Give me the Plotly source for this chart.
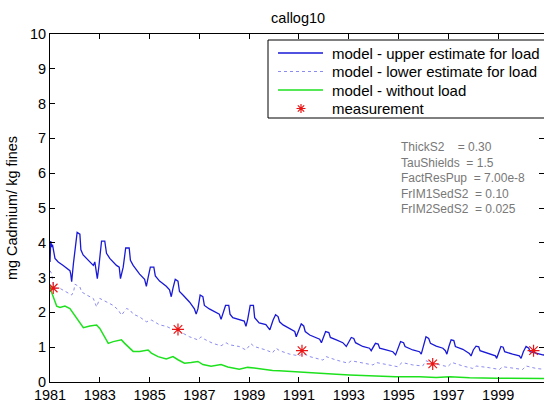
import plotly.graph_objects as go

# ---- data ----
upper_t = [1981.0, 1981.03, 1981.07, 1981.1, 1981.2, 1981.33, 1981.53, 1981.67, 1981.8, 1981.83, 1981.87, 1981.94,
           1982.0, 1982.09, 1982.2, 1982.24, 1982.33, 1982.53, 1982.74, 1982.8, 1982.9, 1982.96,
           1983.07, 1983.2, 1983.27, 1983.4, 1983.67, 1983.78, 1983.83, 1983.94,
           1984.04, 1984.18, 1984.23, 1984.34, 1984.6, 1984.8, 1984.87, 1984.94,
           1985.03, 1985.17, 1985.23, 1985.4, 1985.67, 1985.8, 1985.87, 1985.94,
           1986.03, 1986.14, 1986.2, 1986.34, 1986.6, 1986.8, 1986.87, 1986.94,
           1987.03, 1987.14, 1987.2, 1987.4, 1987.67, 1987.8, 1987.87, 1987.94,
           1988.05, 1988.18, 1988.23, 1988.34, 1988.6, 1988.8, 1988.87, 1988.94,
           1989.04, 1989.17, 1989.22, 1989.4, 1989.67, 1989.83, 1989.96,
           1990.06, 1990.16, 1990.22, 1990.36, 1990.63, 1990.83, 1990.89,
           1991.0, 1991.09, 1991.19, 1991.25, 1991.43, 1991.7, 1991.83, 1991.9, 1991.99,
           1992.07, 1992.2, 1992.26, 1992.5, 1992.76, 1992.9,
           1993.0, 1993.1, 1993.2, 1993.27, 1993.56, 1993.83, 1993.9, 1993.99,
           1994.07, 1994.18, 1994.24, 1994.5, 1994.77, 1994.88, 1994.97,
           1995.08, 1995.2, 1995.26, 1995.57, 1995.84, 1995.91,
           1996.0, 1996.1, 1996.21, 1996.28, 1996.51, 1996.78, 1996.88, 1996.94,
           1997.02, 1997.11, 1997.22, 1997.28, 1997.58, 1997.84, 1997.91,
           1998.0, 1998.11, 1998.22, 1998.27, 1998.65, 1998.89, 1998.94,
           1999.02, 1999.11, 1999.2, 1999.26, 1999.58, 1999.85, 1999.92,
           2000.01, 2000.12, 2000.23, 2000.28, 2000.52, 2000.79, 2000.9]
upper_v = [3.45, 4.05, 3.88, 3.95, 3.55, 3.45, 3.35, 3.26, 3.2, 3.11, 2.88, 3.4,
           3.8, 4.3, 4.25, 3.8, 3.65, 3.5, 3.35, 3.45, 2.97, 3.3,
           4.05, 4.05, 3.7, 3.55, 3.35, 3.3, 2.97, 3.3,
           3.85, 3.85, 3.5, 3.35, 3.1, 2.95, 2.75, 3.0,
           3.3, 3.3, 3.05, 2.9, 2.75, 2.65, 2.45, 2.7,
           2.95, 2.9, 2.6, 2.5, 2.3, 2.1, 1.95, 2.1,
           2.5, 2.45, 2.2, 2.1, 2.0, 1.95, 1.8, 1.95,
           2.2, 2.2, 1.95, 1.85, 1.8, 1.75, 1.6, 1.8,
           2.2, 2.2, 1.85, 1.7, 1.65, 1.5, 1.78,
           1.93, 1.88, 1.73, 1.64, 1.54, 1.45, 1.3,
           1.5, 1.67, 1.61, 1.45, 1.35, 1.28, 1.23, 1.13, 1.3,
           1.45, 1.42, 1.28, 1.21, 1.13, 1.02,
           1.16, 1.28, 1.25, 1.13, 1.02, 0.97, 0.9, 1.02,
           1.11, 1.09, 0.97, 0.92, 0.87, 0.78, 0.97,
           1.16, 1.13, 1.02, 0.92, 0.87, 0.8,
           1.02, 1.3, 1.25, 1.11, 1.03, 0.97, 0.9, 0.8,
           1.02, 1.21, 1.19, 1.02, 0.94, 0.82, 0.75,
           0.92, 1.03, 1.01, 0.9, 0.82, 0.75, 0.68,
           0.87, 1.02, 1.0, 0.87, 0.8, 0.75, 0.68,
           0.87, 1.02, 0.97, 0.87, 0.82, 0.78, 0.77]

lower_t = [1981.0, 1981.07, 1981.13, 1981.2, 1981.4, 1981.67, 1981.87, 1981.95,
           1982.0, 1982.2, 1982.27, 1982.47, 1982.74, 1982.87,
           1983.0, 1983.14, 1983.27, 1983.54, 1983.74, 1983.87,
           1984.07, 1984.2, 1984.34, 1984.6, 1984.87,
           1985.07, 1985.2, 1985.4, 1985.67, 1985.94,
           1986.14, 1986.34, 1986.6, 1986.94,
           1987.07, 1987.2, 1987.54, 1987.87,
           1988.07, 1988.2, 1988.6, 1988.87,
           1989.07, 1989.2, 1989.67, 1989.94,
           1990.08, 1990.22, 1990.63, 1991.0,
           1991.16, 1991.43, 1991.96, 1992.09, 1992.5, 1992.97,
           1993.1, 1993.57, 1993.97, 1994.1, 1994.63, 1994.96,
           1995.14, 1995.57, 1995.97, 1996.1, 1996.37, 1996.97,
           1997.15, 1997.58, 1997.98, 1998.11, 1998.65, 1999.05,
           1999.18, 1999.72, 1999.98, 2000.12, 2000.52, 2000.9]
lower_v = [3.2, 3.11, 2.78, 2.7, 2.69, 2.59, 2.5, 2.6,
           2.81, 2.73, 2.59, 2.5, 2.4, 2.16,
           2.4, 2.35, 2.3, 2.2, 2.07, 1.92,
           2.11, 2.08, 1.95, 1.87, 1.73,
           1.78, 1.73, 1.64, 1.6, 1.51,
           1.5, 1.4, 1.3, 1.21,
           1.3, 1.23, 1.11, 1.04,
           1.13, 1.07, 1.02, 0.92,
           1.1, 1.02, 0.92, 0.84,
           0.97, 0.9, 0.8, 0.75,
           0.82, 0.73, 0.63, 0.73, 0.63, 0.54,
           0.61, 0.54, 0.49, 0.56, 0.49, 0.44,
           0.56, 0.49, 0.46, 0.61, 0.54, 0.44,
           0.56, 0.46, 0.39, 0.46, 0.41, 0.36,
           0.44, 0.39, 0.36, 0.46, 0.39, 0.36]

noload_t = [1981.0, 1981.03, 1981.13, 1981.27, 1981.4, 1981.6, 1981.8, 1981.94,
            1982.2, 1982.34, 1982.6, 1982.87, 1983.0, 1983.14, 1983.34, 1983.54, 1983.87,
            1984.0, 1984.2, 1984.34, 1984.6, 1984.94, 1985.07, 1985.34, 1985.67, 1985.94,
            1986.14, 1986.4, 1986.67, 1986.94, 1987.14, 1987.47, 1987.87, 1988.14,
            1988.6, 1988.94, 1989.2, 1989.67, 1989.94, 1990.2, 1990.63, 1991.0,
            1991.43, 1991.96, 1992.5, 1993.03, 1993.83, 1994.88, 1995.84, 1996.51,
            1997.05, 1997.85, 1998.94, 1999.9, 2000.9]
noload_v = [2.78, 2.64, 2.45, 2.18, 2.14, 2.18, 2.11, 1.97,
            1.69, 1.56, 1.61, 1.64, 1.54, 1.35, 1.11, 1.16, 1.21,
            1.11, 0.97, 0.88, 0.88, 0.92, 0.83, 0.73, 0.66, 0.73,
            0.64, 0.54, 0.56, 0.59, 0.5, 0.45, 0.5, 0.43,
            0.37, 0.42, 0.4, 0.35, 0.33, 0.32, 0.3, 0.27,
            0.25, 0.23, 0.22, 0.2, 0.17, 0.15, 0.15, 0.13,
            0.15, 0.12, 0.11, 0.11, 0.1]

meas_t = [1981.13, 1986.14, 1991.12, 1996.37, 2000.42]
meas_v = [2.7, 1.51, 0.9, 0.52, 0.9]

x_ticks = list(range(1981, 2000, 2))
y_ticks = list(range(0, 11))

series_names = ["model - upper estimate for load",
                "model - lower estimate for load",
                "model - without load",
                "measurement"]

param_lines = ["ThickS2\u00a0\u00a0\u00a0\u00a0= 0.30",
               "TauShields\u00a0\u00a0= 1.5",
               "FactResPup\u00a0\u00a0= 7.00e-8",
               "FrIM1SedS2\u00a0\u00a0= 0.10",
               "FrIM2SedS2\u00a0\u00a0= 0.025"]

FONT = "Liberation Sans, Arial, sans-serif"
C_UP = "rgb(25,25,215)"
C_LO = "rgb(140,140,240)"
C_NO = "rgb(30,225,30)"
C_MS = "rgb(235,20,20)"

# plot-area geometry (pixels) used for the hand-drawn legend box
W, H = 544, 403
ML, MT, MB = 50, 34, 21
PW = 494
PH = H - MT - MB


def px(xp):
    return (xp - ML) / PW


def py(yp):
    return (H - MB - yp) / PH


fig = go.Figure()
fig.add_trace(go.Scatter(x=upper_t, y=upper_v, mode="lines", name=series_names[0],
                         line=dict(color=C_UP, width=1.3)))
fig.add_trace(go.Scatter(x=lower_t, y=lower_v, mode="lines", name=series_names[1],
                         line=dict(color=C_LO, width=1, dash="dot")))
fig.add_trace(go.Scatter(x=noload_t, y=noload_v, mode="lines", name=series_names[2],
                         line=dict(color=C_NO, width=1.5)))
fig.add_trace(go.Scatter(x=meas_t, y=meas_v, mode="markers", name=series_names[3],
                         marker=dict(symbol="asterisk-open", size=10, color=C_MS,
                                     line=dict(color=C_MS, width=1.2))))
# right-hand inward ticks
fig.add_trace(go.Scatter(x=[meas_t[0]], y=[meas_v[0]], yaxis="y2", mode="markers",
                         marker=dict(opacity=0), showlegend=False, hoverinfo="skip"))

# ---- legend drawn as a boxed block (matches the reference's compact spacing) ----
shapes = []
annotations = []
box_l, box_t, box_b, box_r = 268, 40, 118, 548
shapes.append(dict(type="rect", xref="paper", yref="paper",
                   x0=px(box_l), x1=px(box_r), y0=py(box_b), y1=py(box_t),
                   line=dict(color="black", width=1), fillcolor="white", layer="above"))
rows = [53, 71.5, 90, 108.5]
styles = [dict(color=C_UP, width=1.3), dict(color=C_LO, width=1.2, dash="dot"),
          dict(color=C_NO, width=1.5)]
for i, st in enumerate(styles):
    shapes.append(dict(type="line", xref="paper", yref="paper",
                       x0=px(278), x1=px(323), y0=py(rows[i]), y1=py(rows[i]),
                       line=st, layer="above"))
# asterisk symbol for the measurement entry
cx, cy, r = 301, rows[3], 4.5
d = 0.7071 * r
ast = (f"M {px(cx - r)},{py(cy)} L {px(cx + r)},{py(cy)} "
       f"M {px(cx)},{py(cy - r)} L {px(cx)},{py(cy + r)} "
       f"M {px(cx - d)},{py(cy - d)} L {px(cx + d)},{py(cy + d)} "
       f"M {px(cx - d)},{py(cy + d)} L {px(cx + d)},{py(cy - d)}")
shapes.append(dict(type="path", xref="paper", yref="paper", path=ast,
                   line=dict(color=C_MS, width=1.2), layer="above"))
for i, name in enumerate(series_names):
    annotations.append(dict(text=name, xref="paper", yref="paper",
                            x=px(330), y=py(rows[i]), xanchor="left", yanchor="middle",
                            showarrow=False,
                            font=dict(family=FONT, size=15, color="black")))

annotations.append(dict(text="<br>".join(param_lines), xref="paper", yref="paper",
                        x=px(399), y=py(138), xanchor="left", yanchor="top", align="left",
                        showarrow=False,
                        font=dict(family=FONT, size=12, color="rgb(120,120,120)")))

fig.update_layout(
    width=W, height=H,
    margin=dict(l=ML, r=0, t=MT, b=MB),
    paper_bgcolor="white", plot_bgcolor="white",
    font=dict(family=FONT, size=14, color="black"),
    title=dict(text="callog10", x=0.548, xanchor="center", y=0.955, yanchor="middle",
               font=dict(family=FONT, size=14.5, color="black")),
    showlegend=False,
    xaxis=dict(range=[1981, 2000.84], tickmode="array", tickvals=x_ticks,
               ticktext=[str(v) for v in x_ticks], ticks="inside", ticklen=5,
               tickcolor="black", showline=True, linecolor="black", linewidth=1,
               mirror="ticks", showgrid=False, zeroline=False,
               tickfont=dict(family=FONT, size=14.5)),
    yaxis=dict(range=[0, 10], tickmode="array", tickvals=y_ticks,
               ticks="inside", ticklen=5, tickcolor="black", showline=True,
               linecolor="black", linewidth=1, showgrid=False, zeroline=False,
               title=dict(text="mg Cadmium/ kg fines", standoff=8,
                          font=dict(family=FONT, size=14.5)),
               tickfont=dict(family=FONT, size=14.5)),
    yaxis2=dict(range=[0, 10], overlaying="y", side="right", tickmode="array",
                tickvals=y_ticks, ticks="inside", ticklen=5, tickcolor="black",
                showticklabels=False, showline=False, showgrid=False, zeroline=False),
    shapes=shapes,
    annotations=annotations,
)

fig.write_html("out.html")
